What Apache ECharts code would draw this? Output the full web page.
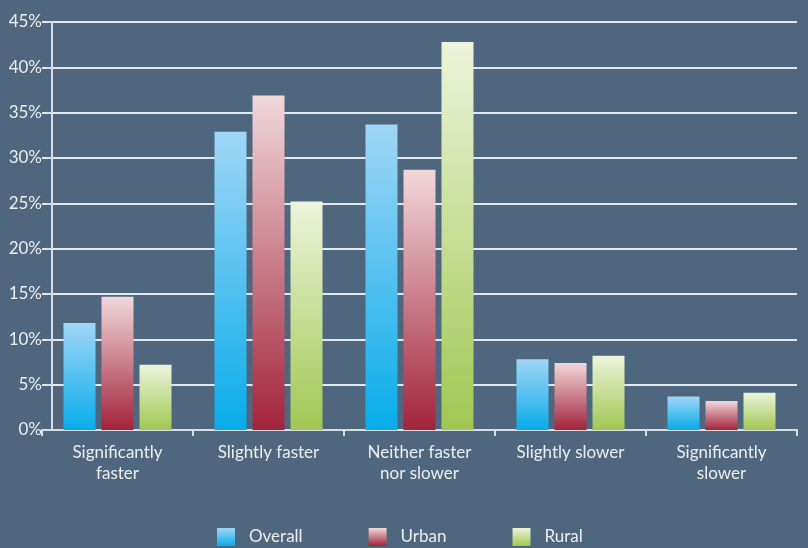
<!DOCTYPE html>
<html>
<head>
<meta charset="utf-8">
<script src="https://cdn.jsdelivr.net/npm/echarts@6/dist/echarts.min.js"></script>
<style>
  html, body { margin: 0; padding: 0; background: #4e677e; }
  #chart { width: 808px; height: 548px; }
</style>
</head>
<body>
<div id="chart"></div>
<script>
// categories and series (percent)
var categories = ["Significantly\nfaster", "Slightly faster", "Neither faster\nnor slower", "Slightly slower", "Significantly\nslower"];
var overall = [11.8, 32.9, 33.7, 7.8, 3.7];
var urban = [14.7, 36.9, 28.7, 7.4, 3.2];
var rural = [7.2, 25.2, 42.8, 8.2, 4.1];
var yTicks = [0, 5, 10, 15, 20, 25, 30, 35, 40, 45];

function grad(top, bottom) {
  return new echarts.graphic.LinearGradient(0, 0, 0, 1, [
    { offset: 0, color: top },
    { offset: 1, color: bottom }
  ]);
}

var font = "Lato, 'Open Sans', sans-serif";
var chart = echarts.init(document.getElementById("chart"));
chart.setOption({
  backgroundColor: "#4e677e",
  animation: false,
  textStyle: { fontFamily: font },
  grid: { left: 42, top: 22, width: 755, bottom: 118, containLabel: false },
  legend: {
    bottom: -3,
    left: 212,
    itemWidth: 18,
    itemHeight: 18,
    itemGap: 66,
    icon: "rect",
    textStyle: { color: "#eeeeee", fontSize: 17, padding: [0, 0, 0, 9] },
    data: ["Overall", "Urban", "Rural"]
  },
  xAxis: {
    type: "category",
    data: categories,
    axisLine: { lineStyle: { color: "#d8dde2", width: 2 } },
    axisTick: { show: true, length: 6, lineStyle: { color: "#d8dde2", width: 2 } },
    axisLabel: { color: "#eeeeee", fontSize: 17, lineHeight: 21, margin: 12, interval: 0 }
  },
  yAxis: {
    type: "value",
    min: 0,
    max: 45,
    interval: 5,
    offset: -10,
    axisLine: { show: true, lineStyle: { color: "#d8dde2", width: 2 } },
    axisTick: { show: true, length: 5, lineStyle: { color: "#d8dde2", width: 2 } },
    axisLabel: {
      color: "#eeeeee",
      fontSize: 17,
      margin: 10,
      formatter: function (v) { return yTicks.indexOf(v) >= 0 ? v + "%" : ""; }
    },
    splitLine: { lineStyle: { color: "#e4e7ea", width: 2 } }
  },
  series: [
    {
      name: "Overall", type: "bar", data: overall, barWidth: 32, barGap: "18.75%",
      itemStyle: { color: grad("#a0d6f6", "#08acea") }
    },
    {
      name: "Urban", type: "bar", data: urban, barWidth: 32,
      itemStyle: { color: grad("#f1d8db", "#a2233a") }
    },
    {
      name: "Rural", type: "bar", data: rural, barWidth: 32,
      itemStyle: { color: grad("#ecf4db", "#a1c752") }
    }
  ]
});
</script>
</body>
</html>
